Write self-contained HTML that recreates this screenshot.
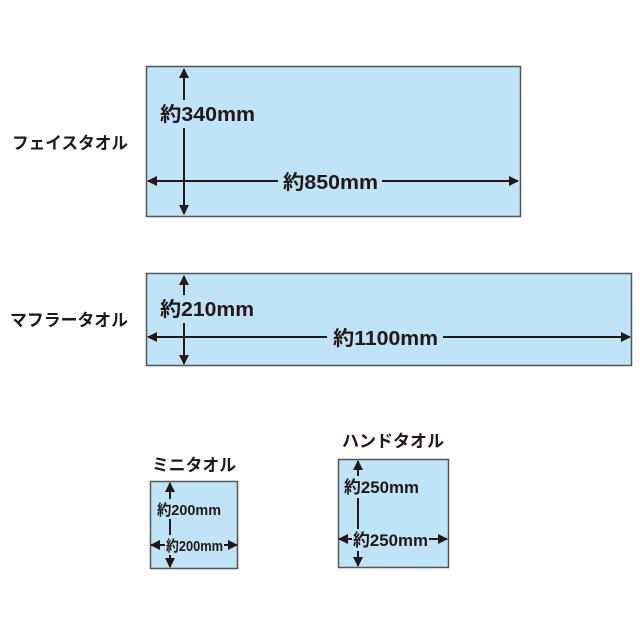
<!DOCTYPE html>
<html><head><meta charset="utf-8"><style>
html,body{margin:0;padding:0;background:#fff;}
svg{display:block;}
text{font-family:"Liberation Sans","Noto Sans CJK JP",sans-serif;font-weight:bold;fill:#231815;}
</style></head><body>
<svg width="640" height="640" viewBox="0 0 640 640" xmlns="http://www.w3.org/2000/svg">
<defs>
<marker id="a" viewBox="0 0 10 10" refX="9" refY="5" markerWidth="11" markerHeight="10" markerUnits="userSpaceOnUse" orient="auto-start-reverse"><path d="M0,0L10,5L0,10Z" fill="#231815"/></marker>
</defs>
<!-- Face towel -->
<text x="12" y="149" font-size="17" textLength="116" lengthAdjust="spacingAndGlyphs">フェイスタオル</text>
<rect x="146.5" y="66.5" width="374" height="150" fill="#bfe3f7" stroke="#555" stroke-width="1.5"/>
<line x1="184" y1="69" x2="184" y2="214" stroke="#231815" stroke-width="2" marker-start="url(#a)" marker-end="url(#a)"/>
<line x1="148" y1="181" x2="518" y2="181" stroke="#231815" stroke-width="2" marker-start="url(#a)" marker-end="url(#a)"/>
<rect x="158" y="100" width="100" height="28" fill="#bfe3f7"/>
<text x="160" y="121" font-size="20" textLength="95" lengthAdjust="spacingAndGlyphs">約340mm</text>
<rect x="278" y="168" width="104" height="26" fill="#bfe3f7"/>
<text x="283" y="189" font-size="20" textLength="95" lengthAdjust="spacingAndGlyphs">約850mm</text>
<!-- Muffler towel -->
<text x="10" y="326" font-size="17" textLength="118" lengthAdjust="spacingAndGlyphs">マフラータオル</text>
<rect x="146.5" y="273.5" width="485" height="92" fill="#bfe3f7" stroke="#555" stroke-width="1.5"/>
<line x1="184" y1="276" x2="184" y2="364" stroke="#231815" stroke-width="2" marker-start="url(#a)" marker-end="url(#a)"/>
<line x1="148" y1="337" x2="630" y2="337" stroke="#231815" stroke-width="2" marker-start="url(#a)" marker-end="url(#a)"/>
<rect x="158" y="295" width="100" height="28" fill="#bfe3f7"/>
<text x="160" y="316" font-size="20" textLength="94" lengthAdjust="spacingAndGlyphs">約210mm</text>
<rect x="327" y="324" width="116" height="26" fill="#bfe3f7"/>
<text x="333" y="345" font-size="20" textLength="105" lengthAdjust="spacingAndGlyphs">約1100mm</text>
<!-- Mini towel -->
<text x="152" y="471" font-size="17" textLength="84" lengthAdjust="spacingAndGlyphs">ミニタオル</text>
<rect x="150.5" y="481.5" width="87" height="87" fill="#bfe3f7" stroke="#555" stroke-width="1.5"/>
<line x1="170" y1="483" x2="170" y2="567" stroke="#231815" stroke-width="2" marker-start="url(#a)" marker-end="url(#a)"/>
<line x1="151" y1="545" x2="237" y2="545" stroke="#231815" stroke-width="2" marker-start="url(#a)" marker-end="url(#a)"/>
<rect x="156" y="499" width="66" height="20" fill="#bfe3f7"/>
<text x="157" y="515" font-size="15" textLength="64" lengthAdjust="spacingAndGlyphs">約200mm</text>
<rect x="165" y="535" width="59" height="20" fill="#bfe3f7"/>
<text x="166" y="551" font-size="15" textLength="57" lengthAdjust="spacingAndGlyphs">約200mm</text>
<!-- Hand towel -->
<text x="342" y="447" font-size="17" textLength="102" lengthAdjust="spacingAndGlyphs">ハンドタオル</text>
<rect x="338.5" y="459.5" width="110" height="108" fill="#bfe3f7" stroke="#555" stroke-width="1.5"/>
<line x1="358" y1="461" x2="358" y2="566" stroke="#231815" stroke-width="2" marker-start="url(#a)" marker-end="url(#a)"/>
<line x1="339" y1="539" x2="447" y2="539" stroke="#231815" stroke-width="2" marker-start="url(#a)" marker-end="url(#a)"/>
<rect x="343" y="476" width="78" height="22" fill="#bfe3f7"/>
<text x="344" y="493" font-size="17" textLength="75" lengthAdjust="spacingAndGlyphs">約250mm</text>
<rect x="352" y="529" width="77" height="22" fill="#bfe3f7"/>
<text x="353" y="546" font-size="17" textLength="75" lengthAdjust="spacingAndGlyphs">約250mm</text>
</svg>
</body></html>
